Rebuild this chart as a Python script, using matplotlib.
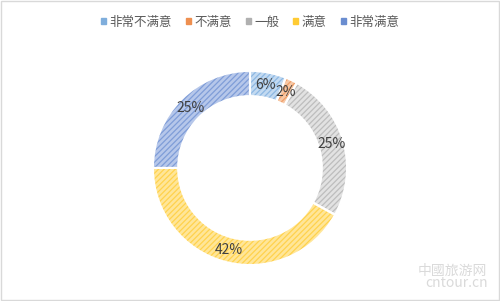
import matplotlib.pyplot as plt
import numpy as np

plt.rcParams['font.family'] = ['Noto Sans CJK SC', 'DejaVu Sans']
plt.rcParams['hatch.linewidth'] = 0.9

labels = ['非常不满意', '不满意', '一般', '满意', '非常满意']
values = [6, 2, 25, 42, 25]
pct_labels = ['6%', '2%', '25%', '42%', '25%']
base_colors = ['#8DB8E3', '#F0A06A', '#BDBDBD', '#FFD24D', '#7F9DD8']
light_colors = ['#C3DAF1', '#F7C8A6', '#E2E2E2', '#FFE699', '#B6C7EA']
legend_colors = ['#7FAEDC', '#EE8F50', '#B0B0B0', '#FFCB33', '#6A8DD0']

fig = plt.figure(figsize=(5.0, 3.01), dpi=100)
ax = fig.add_axes([0.3, 0.113, 0.4, 0.658])

w = 0.26
# light fill
ax.pie(values, radius=1, startangle=90, counterclock=False,
       colors=light_colors, wedgeprops=dict(width=w, linewidth=0))
# hatch lines
wedges, _ = ax.pie(values, radius=1, startangle=90, counterclock=False,
                   colors=['none'] * 5, wedgeprops=dict(width=w, linewidth=0))
for wd, c in zip(wedges, base_colors):
    wd.set_hatch('//////')
    wd.set_edgecolor(c)
    wd.set_facecolor('none')
# white separators
ax.pie(values, radius=1, startangle=90, counterclock=False,
       colors=['none'] * 5, wedgeprops=dict(width=w, linewidth=1.5, edgecolor='white'))

ang = 90
for v, t in zip(values, pct_labels):
    mid = ang - v / 100 * 360 / 2
    r = 1 - w / 2
    ax.text(r * np.cos(np.radians(mid)), r * np.sin(np.radians(mid)), t,
            ha='center', va='center', fontsize=10, color='#404040')
    ang -= v / 100 * 360
ax.set_aspect('equal')
ax.set_xlim(-1.02, 1.02)
ax.set_ylim(-1.02, 1.02)

handles = [plt.Rectangle((0, 0), 1, 1, color=c) for c in legend_colors]
fig.legend(handles, labels, loc='upper center', bbox_to_anchor=(0.5, 0.985), ncol=5,
           frameon=False, fontsize=9, handlelength=0.4, handleheight=0.4,
           handletextpad=0.3, columnspacing=1.1, labelcolor='#595959')

fig.text(0.975, 0.035, '中國旅游网\ncntour.cn', ha='right', va='bottom',
         fontsize=10, color='#DADADA', linespacing=0.85)

border = plt.Rectangle((0.002, 0.003), 0.996, 0.994, transform=fig.transFigure,
                       fill=False, edgecolor='#D9D9D9', linewidth=1)
fig.patches.append(border)

fig.savefig('out.png', dpi=100)
